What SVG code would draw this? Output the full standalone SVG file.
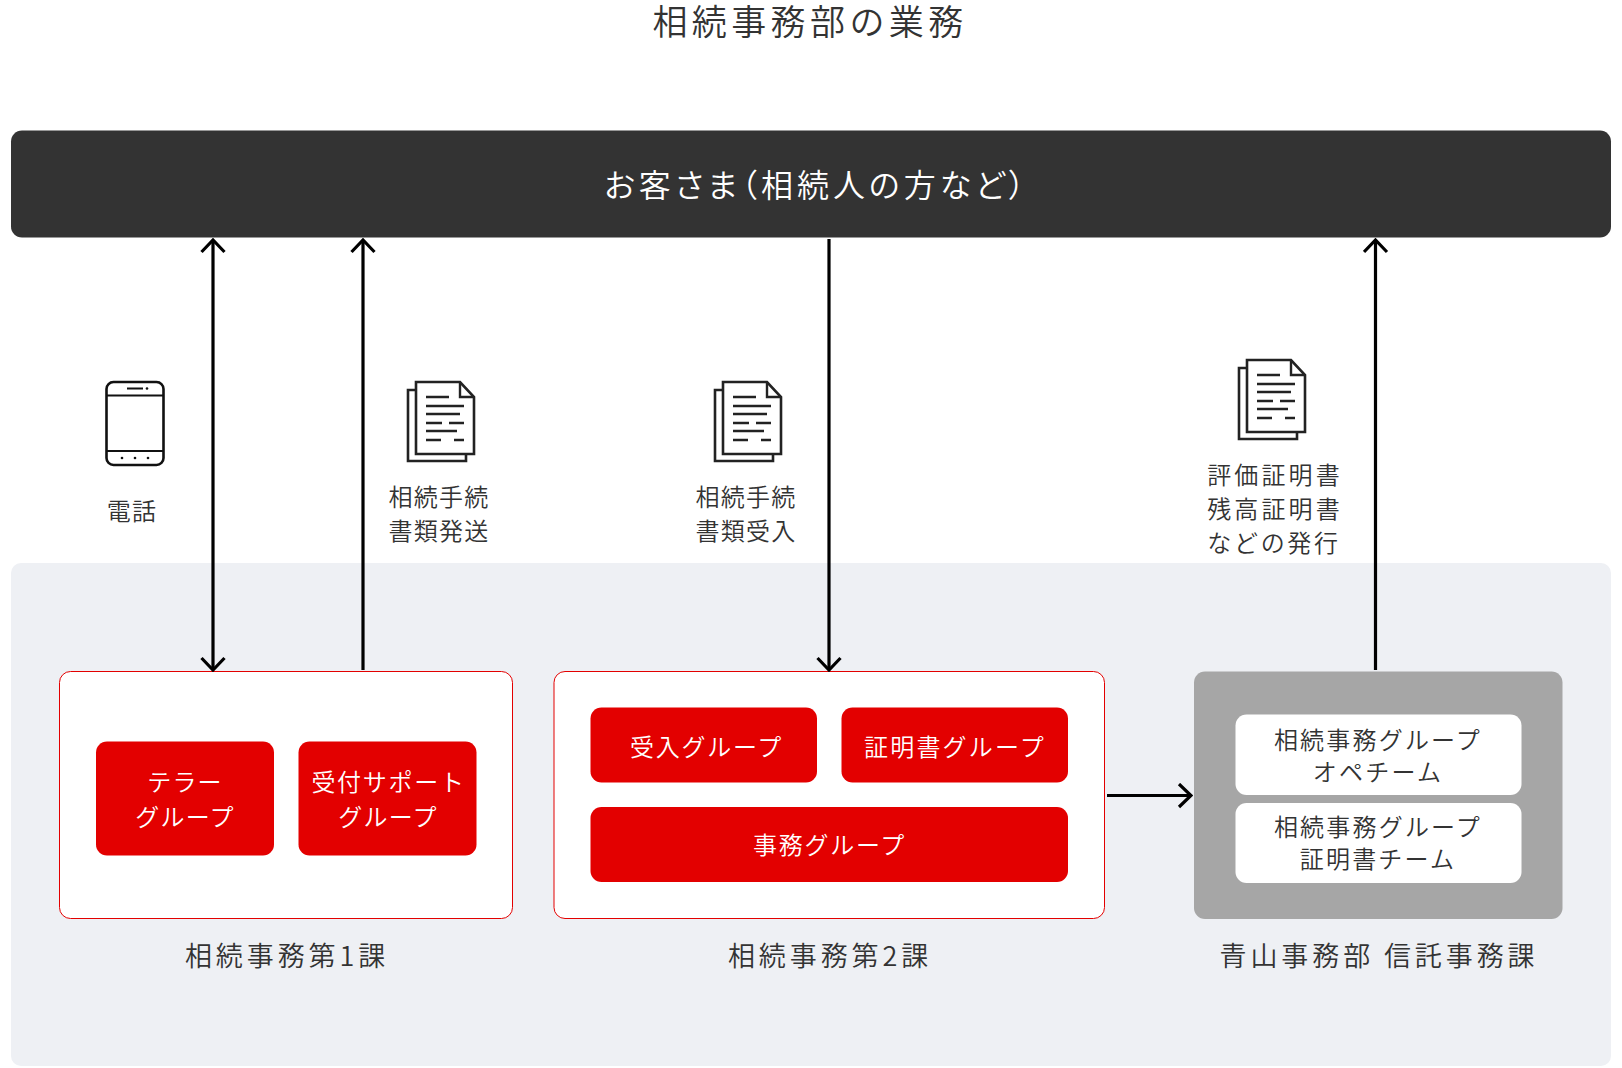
<svg xmlns="http://www.w3.org/2000/svg" width="1622" height="1068" viewBox="0 0 1622 1068">
<style>
text{font-family:"Noto Sans CJK JP","Noto Sans CJK SC",sans-serif;text-anchor:middle;fill:#333;font-weight:350}
.t24{font-size:24px;letter-spacing:1.2px}
.t24a{font-size:24px;letter-spacing:1.7px}
.t24b{font-size:24px;letter-spacing:2.2px}
.t24c{font-size:24px;letter-spacing:3.1px}
.t26{font-size:27px;letter-spacing:3.9px}
.wt{fill:#fff}
.red{fill:#e30000}
.box{fill:#fff;stroke:#e30000;stroke-width:1}
.conn{fill:none;stroke:#000;stroke-width:3.2}
.ic{fill:#fff;stroke:#222;stroke-width:2.6}
.il{fill:none;stroke:#222;stroke-width:2.4}
</style>
<defs>
<marker id="ah" viewBox="0 0 26 26" refX="24" refY="13" markerWidth="26" markerHeight="26" markerUnits="userSpaceOnUse" orient="auto-start-reverse"><path d="M12 1.500L24 13L12 24.500" fill="none" stroke="#000" stroke-width="3.2"/></marker>
<g id="doc">
<path class="ic" d="M0 8H58V79H0Z"/>
<path class="ic" d="M8 0H52L66 15V72H8Z"/>
<path class="il" d="M52 0V15H66M18 15H41M18 24H56M18 32H52M18 41H34M41 41H56M18 49H49M18 58H33M46 58H56"/>
</g>
</defs>
<rect x="0" y="0" width="1622" height="1068" fill="#fff"/>
<g id="area"><rect x="11" y="563" width="1600" height="503" rx="10" fill="#eef0f4"/></g>
<g id="title"><text x="810" y="35" style="font-size:35px;letter-spacing:4.4px">相続事務部の業務</text></g>
<g id="customer"><rect x="11" y="130.500" width="1600" height="107" rx="11" fill="#333"/><text class="wt" x="816.500" y="197" style="font-size:32px;letter-spacing:4px;fill:#fff;font-feature-settings:'palt'">お客さま（相続人の方など）</text></g>
<g id="phone"><rect x="106.500" y="382" width="57" height="83" rx="7" fill="#fff" stroke="#111" stroke-width="2.6"/><path d="M106.500 395.500H163.500M106.500 451H163.500" stroke="#111" stroke-width="2"/><path d="M127 388.500H143" stroke="#111" stroke-width="2"/><circle cx="147" cy="388.500" r="1.300" fill="#111"/><circle cx="122" cy="458" r="1.300" fill="#111"/><circle cx="135" cy="458" r="1.300" fill="#111"/><circle cx="148" cy="458" r="1.300" fill="#111"/><text class="t24" x="132" y="520">電話</text></g>
<g id="doc1"><use href="#doc" x="408" y="382"/><text class="t24" x="439" y="506">相続手続</text><text class="t24" x="439" y="540">書類発送</text></g>
<g id="doc2"><use href="#doc" x="715" y="382"/><text class="t24" x="746" y="506">相続手続</text><text class="t24" x="746" y="540">書類受入</text></g>
<g id="doc3"><use href="#doc" x="1239" y="360"/><text class="t24c" x="1275" y="484">評価証明書</text><text class="t24c" x="1275" y="518">残高証明書</text><text class="t24" x="1274" y="552" style="letter-spacing:2.700px">などの発行</text></g>
<g id="section1"><rect class="box" x="59.500" y="671.500" width="453" height="247" rx="11"/>
<rect class="red" x="96" y="741.500" width="178" height="114" rx="11"/><text class="t24 wt" x="185" y="791" style="fill:#fff">テラー</text><text class="t24 wt" x="185" y="825.500" style="fill:#fff">グループ</text>
<rect class="red" x="298.500" y="741.500" width="178" height="114" rx="11"/><text class="t24a wt" x="388.500" y="791" style="fill:#fff">受付サポート</text><text class="t24 wt" x="388" y="825.500" style="fill:#fff">グループ</text>
<text class="t26" x="287" y="966">相続事務第1課</text></g>
<g id="section2"><rect class="box" x="554" y="671.500" width="550.500" height="247" rx="11"/>
<rect class="red" x="590.500" y="707.500" width="226.500" height="75" rx="11"/><text class="t24a wt" x="706.500" y="756" style="fill:#fff">受入グループ</text>
<rect class="red" x="841.500" y="707.500" width="226.500" height="75" rx="11"/><text class="t24b wt" x="955" y="756" style="fill:#fff">証明書グループ</text>
<rect class="red" x="590.500" y="807" width="477.500" height="75" rx="11"/><text class="t24a wt" x="829.500" y="854" style="fill:#fff">事務グループ</text>
<text class="t26" x="830" y="966">相続事務第2課</text></g>
<g id="section3"><rect x="1194" y="671.500" width="368.500" height="247.500" rx="11" fill="#a6a6a6"/>
<rect x="1235.500" y="714.500" width="286" height="80.500" rx="11" fill="#fff"/><text class="t24b" x="1378" y="749">相続事務グループ</text><text class="t24b" x="1378" y="781">オペチーム</text>
<rect x="1235.500" y="803" width="286" height="80" rx="11" fill="#fff"/><text class="t24b" x="1378" y="836">相続事務グループ</text><text class="t24b" x="1378" y="868">証明書チーム</text>
<text class="t26" x="1379" y="966">青山事務部 信託事務課</text></g>
<g id="connectors">
<path class="conn" d="M213 240V670" marker-start="url(#ah)" marker-end="url(#ah)"/>
<path class="conn" d="M363 670V240" marker-end="url(#ah)"/>
<path class="conn" d="M829 239V670" marker-end="url(#ah)"/>
<path class="conn" d="M1375.500 670V240" marker-end="url(#ah)"/>
<path class="conn" d="M1107 795.500H1191" marker-end="url(#ah)"/>
</g>
</svg>
